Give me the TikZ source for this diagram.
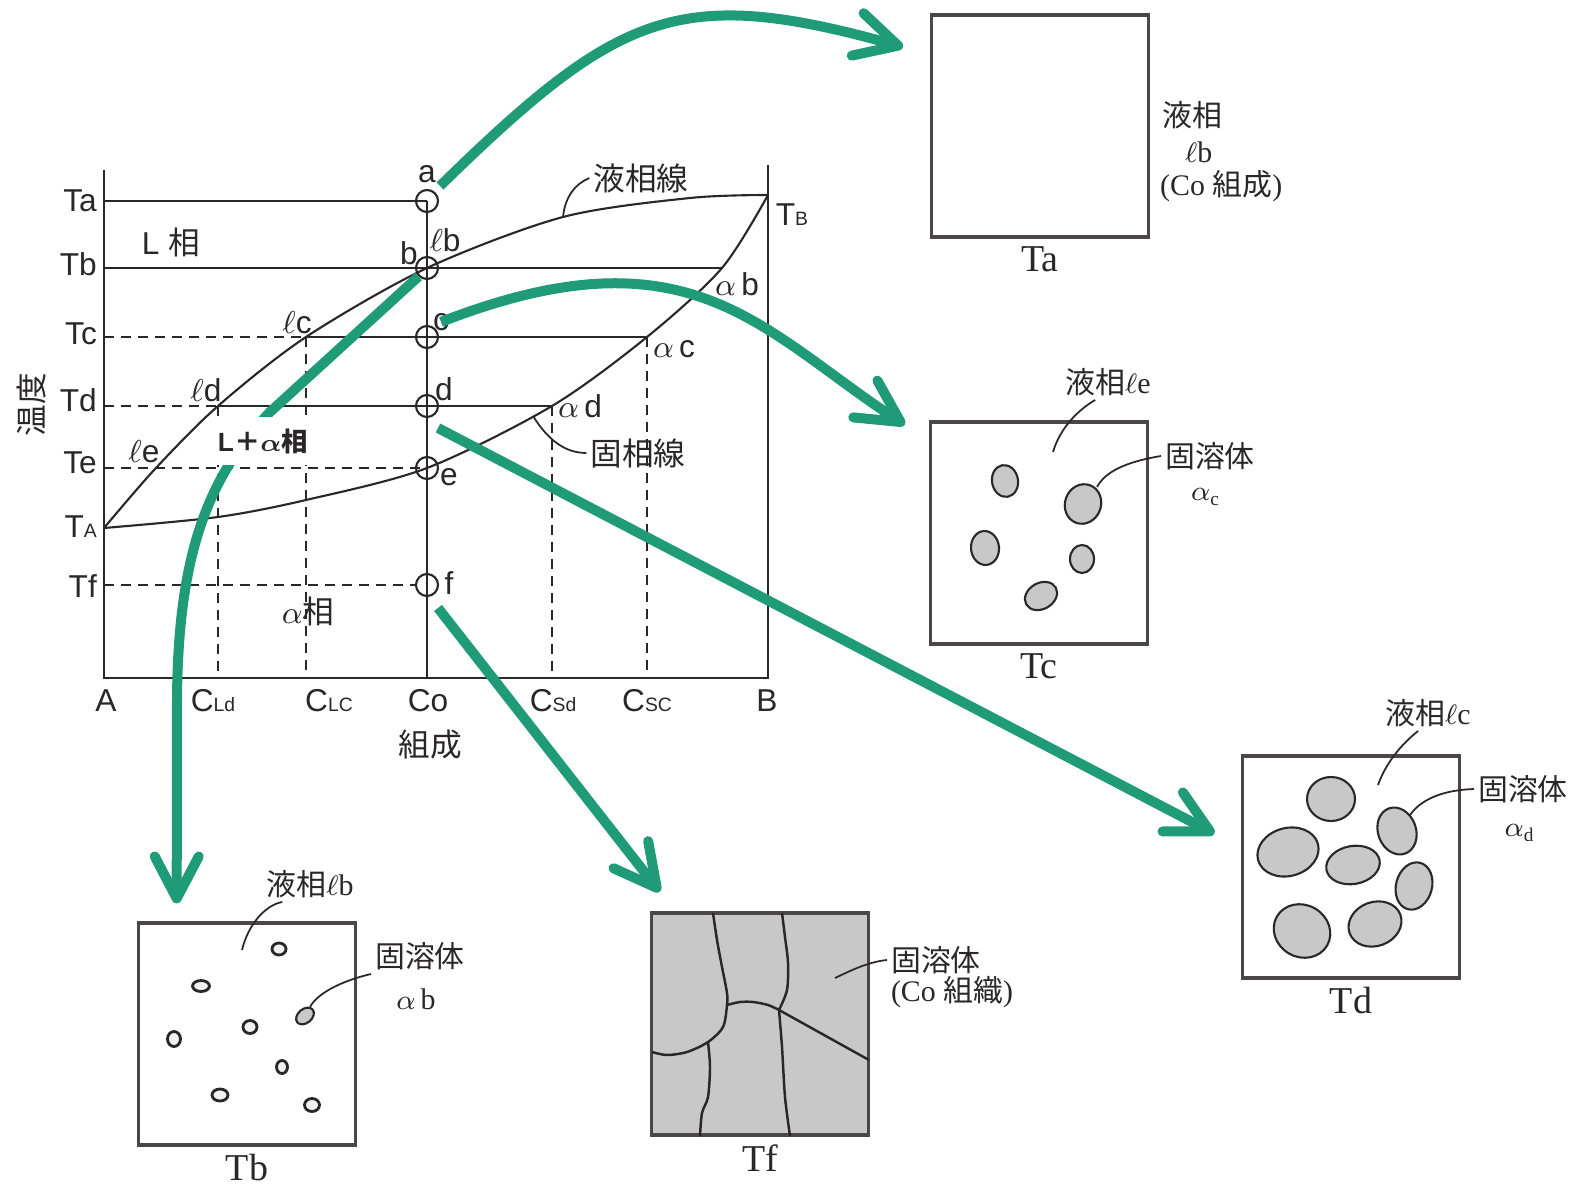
\documentclass[tikz,border=0pt]{standalone}
\usepackage{fontspec}
\usepackage{bm}
\setmainfont{Liberation Sans}
\newfontfamily\jpfont{Noto Sans CJK JP}
\newfontfamily\capfont{Liberation Serif}
\usetikzlibrary{positioning}
\usetikzlibrary{calc}
\usetikzlibrary{arrows.meta}

\definecolor{ink}{HTML}{2B2728}
\definecolor{flowgreen}{HTML}{1F9B78}
\definecolor{grain}{HTML}{C8C8C8}

% small lettering for T_A, C_Ld ...
\newcommand{\subidx}[1]{{\fontsize{5.5pt}{6pt}\selectfont #1}}

\tikzset{
  diag/.style={draw=ink, line width=0.6pt},
  guide/.style={draw=ink, line width=0.6pt, dash pattern=on 1mm off 0.7mm},
  probe/.style={circle, draw=ink, line width=0.6pt, minimum size=2.2mm, inner sep=0pt},
  lbl/.style={inner sep=1pt},
  leader/.style={draw=ink, line width=0.5pt},
  micro/.style={draw=ink!85, line width=0.9pt, minimum width=21.7mm, minimum height=22.2mm, inner sep=0pt},
  caption/.style={inner sep=0pt, font=\capfont\fontsize{10.8pt}{12pt}\selectfont},
  side/.style={inner sep=1pt, font=\capfont\fontsize{8.5pt}{10pt}\selectfont},
  grainshape/.style={draw=ink, line width=0.6pt, fill=grain},
  seed/.style={draw=ink, line width=0.8pt, fill=grain!25},
  boundary/.style={draw=ink, line width=0.7pt},
  flow/.style={draw=flowgreen, line width=1mm, -{Straight Barb[length=4.2mm, width=4.4mm, round]}},
}

\begin{document}
\begin{tikzpicture}[x=0.1mm, y=-0.1mm, font=\fontsize{9pt}{10pt}\selectfont, text=ink]
\useasboundingbox (0,0) rectangle (1575,1186);

% ---- phase diagram ----
\coordinate (A) at (104,678);
\coordinate (B) at (768,678);
\coordinate (TA) at (104,528);
\coordinate (TB) at (768,195);
\draw[diag] (104,170) -- (A) -- (B) -- (768,165);

% liquidus / solidus points
\coordinate (le) at (155,469);
\coordinate (ld) at (218,406);
\coordinate (lc) at (306,337);
\coordinate (lb) at (427,268);
\coordinate (lq) at (563,217);
\coordinate (sq) at (533,416);
\coordinate (ad) at (552,406);
\coordinate (ac) at (647,337);
\coordinate (ab) at (722,268);

\draw[diag] plot[smooth] coordinates {(TA) (le) (ld) (lc) (lb) (lq) (690,198) (TB)};
\draw[diag] plot[smooth] coordinates {(TA) (218,517) (306,500) (427,468) (ad) (ac) (ab) (TB)};

\foreach \n/\y in {a/201, b/268, c/337, d/406, e/468, f/585}
  \node[probe] (p\n) at (427,\y) {};

\draw[diag] (pa.center) -- (pa.center |- A);
\draw[diag] (pa.center -| A) -- (pa.center);
\draw[diag] (lb -| A) -- (ab);
\draw[guide] (lc -| A) -- (lc);
\draw[diag] (lc) -- (ac);
\draw[guide] (ld -| A) -- (ld);
\draw[diag] (ld) -- (ad);
\draw[guide] (pe.center -| A) -- (pe.center);
\draw[guide] (pf.center -| A) -- (pf.west);
\foreach \p in {ld, lc, ad, ac}
  \draw[guide] (\p) -- (\p |- A);

% temperatures
\foreach \y/\t/\n in {201/Ta/a, 264/Tb/b, 334/Tc/c, 400/Td/d, 463/Te/e, 527/{T\subidx{A}}/A, 586/Tf/f}
  \node[lbl, anchor=east] (t\n) at (101,\y) {\t};
% compositions
\foreach \x/\t/\n in {106/A/A, 213/{C\subidx{Ld}}/Ld, 329/{C\subidx{LC}}/Lc, 428/Co/o, 553/{C\subidx{Sd}}/Sd, 647/{C\subidx{SC}}/Sc, 767/B/B}
  \node[lbl] (c\n) at (\x,701) {\t};

\node[lbl] (na) at (427,174) {a};
\node[lbl] (nb) at (409,253) {b};
\node[lbl] (nlb) at (445,240) {$\ell$b};
\node[lbl] (nc) at (441,322) {c};
\node[lbl] (nlc) at (297,323) {$\ell$c};
\node[lbl] (nld) at (206,390) {$\ell$d};
\node[lbl] (nle) at (144,452) {$\ell$e};
\node[lbl] (nd) at (444,389) {d};
\node[lbl] (ne) at (449,477) {e};
\node[lbl] (nf) at (449,583) {f};
\node[lbl] (nab) at (737,284) {$\alpha$\,b};
\node[lbl] (nac) at (674,349) {$\alpha$\,c};
\node[lbl] (nad) at (580,406) {$\alpha$\,d};
\node[lbl] (nTB) at (792,215) {T\subidx{B}};
\node[lbl] (liq) at (641,178) {\jpfont 液相線};
\node[lbl] (sol) at (638,453) {\jpfont 固相線};
\node[lbl] (Lph) at (171,242) {L {\jpfont 相}};
\node[lbl] (aph) at (308,611) {$\alpha${\jpfont 相}};
\node[lbl, rotate=90] (temp) at (32,405) {\jpfont 温度};
\node[lbl] (comp) at (430,745) {\jpfont 組成};

\draw[leader] (lq) .. controls (565,197) and (575,184) .. (liq.west);
\draw[leader] (sq) .. controls (548,440) and (565,453) .. (sol.west);

% ---- structures ----
\node[micro] (Ta) at (1040,126) {};
\node[micro] (Tc) at (1039,533) {};
\node[micro] (Td) at (1351,867) {};
\node[micro] (Tb) at (247,1034) {};
\node[micro, fill=grain] (Tf) at (760,1024) {};
\foreach \n in {Ta,Tb,Tc,Td,Tf}
  \node[caption, below=0.7mm of \n] (cap\n) {\n};

% Ta
\node[side, anchor=west] (sa1) at (1158,115) {\jpfont 液相};
\node[side, anchor=west] (sa2) at (1181,152) {$\ell$b};
\node[side, anchor=west] (sa3) at (1156,186) {(Co {\jpfont 組成})};

% Tb
\foreach \x/\y/\rx/\ry in {279/949/7/6, 201/986/8.5/5.5, 250/1027/7/6.5, 174/1039/6.5/7.5, 282/1067/5.5/6.5, 220/1095/8/6, 312/1105/7.5/6.5}
  \draw[seed] (\x,\y) ellipse [x radius=\rx, y radius=\ry];
\draw[grainshape, rotate around={40:(305,1016)}] (305,1016) ellipse [x radius=10, y radius=7];
\node[side] (lTb) at (310,884) {{\jpfont 液相}$\ell$b};
\node[side] (sTb) at (420,956) {\jpfont 固溶体};
\node[side] (aTb) at (416,999) {$\alpha$\,b};
\coordinate (tTb1) at (242,950);
\coordinate (tTb2) at (310,1007);
\draw[leader] ([xshift=2mm]lTb.south west) .. controls (265,905) and (248,925) .. (tTb1);
\draw[leader] (sTb.south west) .. controls (345,980) and (318,992) .. (tTb2);

% Tc
\foreach \x/\y/\rx/\ry/\r in {1005/481/13/16/10, 1083/504/18/20/-20, 985/548/14/17/5, 1082/559/12/14/0, 1041/596/17/13/30}
  \draw[grainshape, rotate around={\r:(\x,\y)}] (\x,\y) ellipse [x radius=\rx, y radius=\ry];
\node[side] (lTc) at (1108,382) {{\jpfont 液相}$\ell$e};
\node[side] (sTc) at (1210,456) {\jpfont 固溶体};
\node[side] (aTc) at (1205,497) {$\alpha$\raisebox{-0.4ex}{\subidx{c}}};
\coordinate (tTc1) at (1053,452);
\coordinate (tTc2) at (1097,487);
\draw[leader] ([xshift=3.4mm]lTc.south west) .. controls (1078,410) and (1060,428) .. (tTc1);
\draw[leader] (sTc.west) .. controls (1125,462) and (1105,472) .. (tTc2);

% Td
\foreach \x/\y/\rx/\ry/\r in {1331/799/24/22/0, 1288/852/31/24/15, 1397/831/19/24/20, 1353/865/27/19/10, 1414/886/18/24/-15, 1302/931/29/26/-30, 1375/924/27/22/20}
  \draw[grainshape, rotate around={\r:(\x,\y)}] (\x,\y) ellipse [x radius=\rx, y radius=\ry];
\node[side] (lTd) at (1428,713) {{\jpfont 液相}$\ell$c};
\node[side] (sTd) at (1523,789) {\jpfont 固溶体};
\node[side] (aTd) at (1519,833) {$\alpha$\raisebox{-0.4ex}{\subidx{d}}};
\coordinate (tTd1) at (1378,785);
\coordinate (tTd2) at (1410,815);
\draw[leader] ([xshift=3.7mm]lTd.south west) .. controls (1400,745) and (1385,765) .. (tTd1);
\draw[leader] (sTd.west) .. controls (1445,790) and (1422,798) .. (tTd2);

% Tf grain boundaries
\draw[boundary] plot[smooth] coordinates {(713,913) (717,940) (722,967) (727,993) (727,1005) (723,1027) (708,1042) (687,1052) (667,1055) (652,1052)};
\draw[boundary] plot[smooth] coordinates {(782,913) (785,937) (788,963) (787,990) (779,1010)};
\draw[boundary] plot[smooth] coordinates {(727,1005) (740,1002) (753,1002) (768,1005) (779,1010)};
\draw[boundary] (779,1010) -- (869,1060);
\draw[boundary] plot[smooth] coordinates {(779,1010) (782,1047) (785,1097) (790,1136)};
\draw[boundary] plot[smooth] coordinates {(708,1042) (710,1067) (708,1097) (702,1113) (700,1136)};
\node[side] (sTf) at (936,960) {\jpfont 固溶体};
\node[side] (cTf) at (952,992) {(Co {\jpfont 組織})};
\coordinate (tTf) at (835,978);
\draw[leader] (sTf.west) .. controls (868,962) and (852,970) .. (tTf);

% ---- cooling arrows ----
\draw[flow, shorten >=2.8mm] ([shift={(1.3mm,1.5mm)}]pa.center) .. controls (620,10) and (680,-15) .. (Ta.147);
\draw[flow, shorten >=1.8mm] (pb.south west) -- (270,412) .. controls (205,480) and (178,560) .. (177,700) -- (Tb.122);
\draw[flow, shorten >=2.9mm] (nc.center) .. controls (690,225) and (760,330) .. (Tc.140);
\draw[flow, shorten >=3mm] ([shift={(1.1mm,-2.2mm)}]pd.center) -- (Td.170);
\draw[flow, shorten >=2.5mm] ([shift={(1.1mm,-2.3mm)}]pf.center) -- (Tf.127);

\node[fill=white, inner sep=0pt, minimum width=10.8mm, minimum height=4.8mm, font=\bfseries\fontsize{7.5pt}{8pt}\selectfont] (mix) at (263,441) {L{\jpfont ＋}$\bm{\alpha}${\jpfont 相}};
\end{tikzpicture}
\end{document}
